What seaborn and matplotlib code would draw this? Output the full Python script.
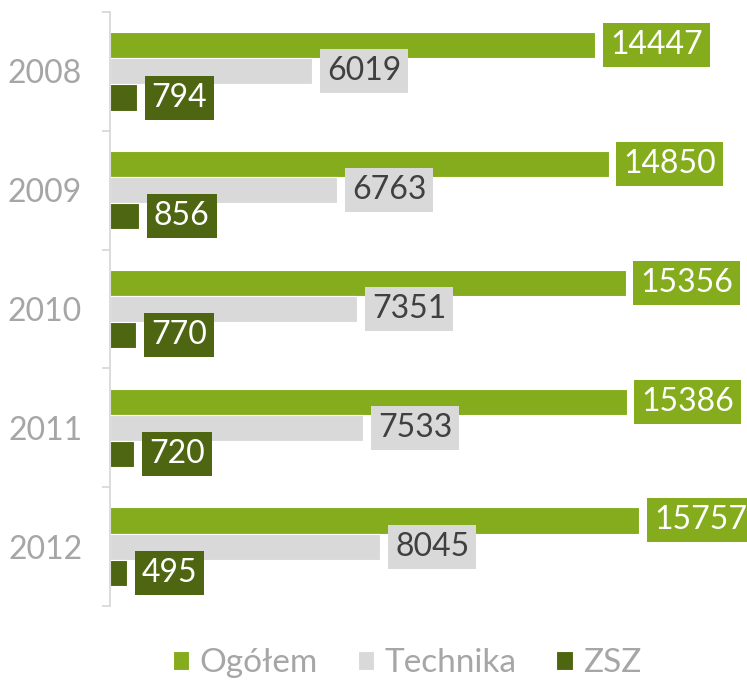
import pandas as pd
import seaborn as sns
import matplotlib.pyplot as plt

years = ['2008', '2009', '2010', '2011', '2012']
ogolem = [14447, 14850, 15356, 15386, 15757]
technika = [6019, 6763, 7351, 7533, 8045]
zsz = [794, 856, 770, 720, 495]
series = ['Ogółem', 'Technika', 'ZSZ']

colors = ['#84AC1C', '#D9D9D9', '#4E6511']
text_colors = ['white', '#404040', 'white']
grey = '#A6A6A6'

df = pd.DataFrame({
    'year': years * 3,
    'value': ogolem + technika + zsz,
    'series': [s for s in series for _ in years],
})

sns.set_theme(style='white')
plt.rcParams['font.family'] = ['Lato', 'DejaVu Sans']

fig = plt.figure(figsize=(7.47, 6.8), dpi=100)
ax = fig.add_axes([110 / 747, 1 - 606 / 680, 637 / 747, 594 / 680])

sns.barplot(data=df, x='value', y='year', hue='series', hue_order=series,
            palette=colors, saturation=1, orient='h', width=0.66, ax=ax,
            edgecolor='white', linewidth=0.8)

# value labels in coloured boxes next to each bar
for cont, fc, tc in zip(ax.containers, colors, text_colors):
    for bar in cont:
        v = bar.get_width()
        yc = bar.get_y() + bar.get_height() / 2
        ax.annotate(f'{int(v)}', xy=(v, yc), xytext=(15, 0),
                    textcoords='offset pixels', ha='left', va='center',
                    fontsize=23, color=tc, annotation_clip=False,
                    bbox=dict(boxstyle='square,pad=0.22', fc=fc, ec='none'))

ax.set_xlim(0, 18975)
ax.set_ylim(4.5, -0.5)
ax.set_xticks([])
ax.set_xlabel('')
ax.set_ylabel('')
ax.set_yticks(range(len(years)))
ax.set_yticklabels(years, color=grey, fontsize=23)
ax.tick_params(axis='y', which='major', length=0, pad=20)
ax.set_yticks([i - 0.5 for i in range(len(years) + 1)], minor=True)
ax.tick_params(axis='y', which='minor', left=True, length=6, width=1.3,
               color='#D9D9D9')
for s in ['top', 'right', 'bottom']:
    ax.spines[s].set_visible(False)
ax.spines['left'].set_color('#D9D9D9')
ax.spines['left'].set_linewidth(1.3)

handles, labels = ax.get_legend_handles_labels()
ax.get_legend().remove()
fig.legend(handles, labels, loc='center', bbox_to_anchor=(407 / 747, 1 - 663 / 680),
           ncol=3, frameon=False, fontsize=24, labelcolor=grey,
           handlelength=0.5, handleheight=0.5, handletextpad=0.3,
           columnspacing=1.2)

fig.savefig('out.png', dpi=100)
